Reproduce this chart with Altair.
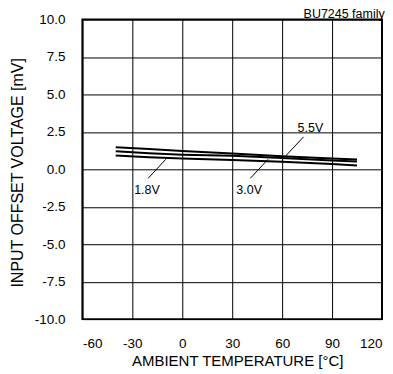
import altair as alt
import pandas as pd

# temperatures (°C) and offset voltages (mV) per supply voltage
temps = [-40, -20, 0, 30, 60, 90, 105]
v55 = [1.47, 1.35, 1.22, 1.05, 0.88, 0.73, 0.66]
v30 = [1.20, 1.08, 0.98, 0.90, 0.75, 0.59, 0.53]
v18 = [0.93, 0.81, 0.73, 0.63, 0.50, 0.36, 0.26]

# annotations
label_text = ["5.5V", "3.0V", "1.8V"]
label_t = [69.3, 32.5, -28.9]
label_v = [2.73, -1.4, -1.4]
ptr_t1 = [72.9, 40.9, -20.5]
ptr_v1 = [2.17, -0.6, -0.6]
ptr_t2 = [62.1, 51.5, -9.9]
ptr_v2 = [0.89, 0.67, 0.67]

caption_text = ["BU7245 family"]
caption_t = [121.6]
caption_v = [10.13]

x_ticks = [-60, -30, 0, 30, 60, 90, 120]
y_ticks = [-10, -7.5, -5, -2.5, 0, 2.5, 5, 7.5, 10]

FONT = "Liberation Sans"

rows = []
for name, vals in [("5.5V", v55), ("3.0V", v30), ("1.8V", v18)]:
    for t, v in zip(temps, vals):
        rows.append({"T": t, "V": v, "s": name})
df = pd.DataFrame(rows)
ann = pd.DataFrame({"label": label_text, "lt": label_t, "lv": label_v,
                    "t1": ptr_t1, "v1": ptr_v1, "t2": ptr_t2, "v2": ptr_v2})
cap = pd.DataFrame({"c": caption_text, "ct": caption_t, "cv": caption_v})

xscale = alt.Scale(domain=[-60, 120], nice=False, zero=False)
yscale = alt.Scale(domain=[-10, 10], nice=False, zero=False)

xaxis = alt.Axis(values=x_ticks, title="AMBIENT TEMPERATURE [°C]",
                 labelExpr="(datum.value < 0 ? '-' : '') + format(abs(datum.value), 'd')",
                 ticks=False, domain=False, grid=True, gridColor="#000000",
                 gridWidth=1, gridOpacity=1, labelPadding=17, labelFontSize=13.5,
                 labelColor="#000000", labelFont=FONT, titleFont=FONT,
                 titleFontSize=15, titleFontWeight="normal", titleColor="#000000",
                 titleX=155, titleY=46, titleAlign="center", titleBaseline="alphabetic",
                 labelOverlap=False)
yaxis = alt.Axis(values=y_ticks, title="INPUT OFFSET VOLTAGE [mV]",
                 labelExpr="(datum.value < 0 ? '-' : '') + format(abs(datum.value), '.1f')",
                 ticks=False, domain=False, grid=True, gridColor="#000000",
                 gridWidth=1, gridOpacity=1, labelPadding=17.5, labelFontSize=13.5,
                 labelColor="#000000", labelFont=FONT, titleFont=FONT,
                 titleFontSize=16, titleFontWeight="normal", titleColor="#000000",
                 titleAngle=270, titleX=-59.8, titleY=153, titleAlign="center",
                 titleBaseline="alphabetic", labelOverlap=False)

lines = alt.Chart(df).mark_line(color="#000000", strokeWidth=2).encode(
    x=alt.X("T:Q", scale=xscale, axis=xaxis),
    y=alt.Y("V:Q", scale=yscale, axis=yaxis),
    detail="s:N",
)

pointers = alt.Chart(ann).mark_rule(color="#000000", strokeWidth=1).encode(
    x=alt.X("t1:Q", scale=xscale, axis=xaxis),
    y=alt.Y("v1:Q", scale=yscale, axis=yaxis),
    x2="t2:Q",
    y2="v2:Q",
)

labels = alt.Chart(ann).mark_text(align="left", baseline="middle", font=FONT,
                                  fontSize=12.5, color="#000000").encode(
    x=alt.X("lt:Q", scale=xscale, axis=xaxis),
    y=alt.Y("lv:Q", scale=yscale, axis=yaxis),
    text="label:N",
)

caption = alt.Chart(cap).mark_text(align="right", baseline="alphabetic", font=FONT,
                                   fontSize=12.5, color="#000000", clip=False).encode(
    x=alt.X("ct:Q", scale=xscale, axis=xaxis),
    y=alt.Y("cv:Q", scale=yscale, axis=yaxis),
    text="c:N",
)

chart = alt.layer(lines, pointers, labels, caption).properties(
    width=300, height=300,
    autosize=alt.AutoSizeParams(type="none"),
    padding={"left": 74.5, "top": 11.3, "right": 3, "bottom": 51},
).configure(font=FONT, background="white").configure_view(
    stroke="#000000", strokeWidth=2)

chart.save("out.html", embed_options={"renderer": "svg", "actions": False})
